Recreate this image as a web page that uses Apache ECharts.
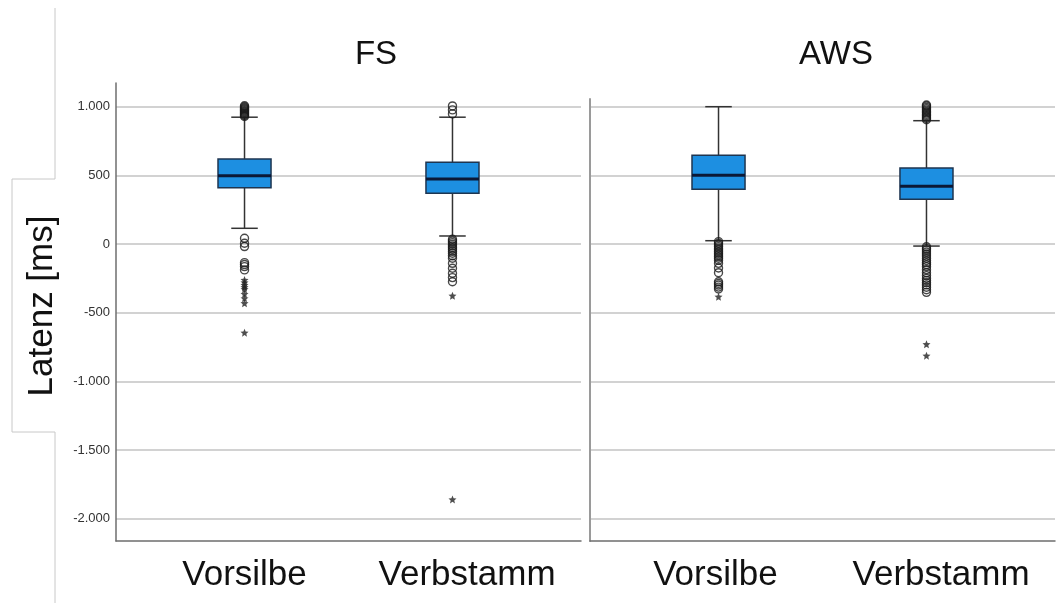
<!DOCTYPE html>
<html>
<head>
<meta charset="utf-8">
<script src="https://cdn.jsdelivr.net/npm/echarts@6/dist/echarts.min.js"></script>
<style>
html,body{margin:0;padding:0;background:#fff;}
#chart{width:1056px;height:603px;}
</style>
</head>
<body>
<div id="chart"></div>
<script>
// ---- data ----
const categories = ['Vorsilbe', 'Verbstamm'];
const panels = ['FS', 'AWS'];
const yTicks = [-2000, -1500, -1000, -500, 0, 500, 1000];
// [lower whisker, Q1, median, Q3, upper whisker]
const fsBoxes = [
  [114, 410, 497, 619, 923],
  [58, 369, 473, 595, 923]
];
const awsBoxes = [
  [24, 398, 500, 646, 1000],
  [-15, 326, 420, 553, 898]
];
// outliers (circles) and extreme values (stars)
const fsVorsilbeCircles = [928, 935, 942, 950, 957, 964, 971, 978, 985, 992, 999, 1006, 41, 5, -19, -136, -150, -165, -189];
const fsVorsilbeStars = [-262, -280, -299, -315, -330, -364, -396, -432, -646];
const fsVerbstammCircles = [947, 976, 1005, 34, 22, 10, -2, -15, -27, -39, -54, -68, -86, -104, -141, -177, -213, -245, -275];
const fsVerbstammStars = [-377, -1860];
const awsVorsilbeCircles = [17, 5, -7, -19, -31, -43, -56, -68, -80, -92, -104, -118, -141, -175, -209, -275, -287, -299, -314, -328];
const awsVorsilbeStars = [-384];
const awsVerbstammCircles = [905, 915, 925, 935, 945, 955, 965, 975, 985, 995, 1005, 1012, -20, -32, -44, -58, -73, -88, -104, -120, -136, -150, -165, -187, -209, -230, -250, -266, -282, -298, -315, -333, -352];
const awsVerbstammStars = [-730, -813];

// ---- helpers ----
const FONT = 'Liberation Sans, Arial, sans-serif';
function boxData(boxes) {
  return boxes.map((b, i) => [i].concat(b));
}
function pts(idx, vals) { return vals.map(v => [idx, v]); }
function fmtDe(v) {
  const s = String(Math.abs(v));
  const t = s.length > 3 ? s.slice(0, s.length - 3) + '.' + s.slice(-3) : s;
  return (v < 0 ? '-' : '') + t;
}
function renderBox(params, api) {
  const x = api.value(0);
  const lo = api.coord([x, api.value(1)]);
  const q1 = api.coord([x, api.value(2)]);
  const med = api.coord([x, api.value(3)]);
  const q3 = api.coord([x, api.value(4)]);
  const hi = api.coord([x, api.value(5)]);
  const w = api.size([0.255, 0])[0];
  const cw = w * 0.5;
  const cx = lo[0];
  const ws = { stroke: '#333', lineWidth: 1.5 };
  return {
    type: 'group',
    children: [
      { type: 'line', shape: { x1: cx, y1: hi[1], x2: cx, y2: q3[1] }, style: ws },
      { type: 'line', shape: { x1: cx, y1: q1[1], x2: cx, y2: lo[1] }, style: ws },
      { type: 'line', shape: { x1: cx - cw / 2, y1: hi[1], x2: cx + cw / 2, y2: hi[1] }, style: ws },
      { type: 'line', shape: { x1: cx - cw / 2, y1: lo[1], x2: cx + cw / 2, y2: lo[1] }, style: ws },
      { type: 'rect', shape: { x: cx - w / 2, y: q3[1], width: w, height: q1[1] - q3[1] },
        style: { fill: '#1d8fe1', stroke: '#1e3550', lineWidth: 1.5 } },
      { type: 'line', shape: { x1: cx - w / 2, y1: med[1], x2: cx + w / 2, y2: med[1] },
        style: { stroke: '#0b1836', lineWidth: 3 } }
    ]
  };
}
const STAR = 'path://M0,-10L2.645,-3.64L9.51,-3.09L4.28,1.39L5.88,8.09L0,4.5L-5.88,8.09L-4.28,1.39L-9.51,-3.09L-2.645,-3.64Z';

function circleSeries(gi, data) {
  return {
    type: 'scatter', xAxisIndex: gi, yAxisIndex: gi, data: data,
    symbol: 'circle', symbolSize: 8, z: 3,
    itemStyle: { color: 'rgba(255,255,255,0)', borderColor: '#1a1a1a', borderWidth: 1.4 }
  };
}
function starSeries(gi, data) {
  return {
    type: 'scatter', xAxisIndex: gi, yAxisIndex: gi, data: data,
    symbol: STAR, symbolSize: 8, z: 3,
    itemStyle: { color: '#222' }
  };
}

const chart = echarts.init(document.getElementById('chart'), null, { renderer: 'canvas' });

const yMinVal = -2163;
function yAxisCfg(gi, maxVal, showLabels) {
  return {
    type: 'value', gridIndex: gi, min: yMinVal, max: maxVal,
    minInterval: 500, maxInterval: 500,
    axisLine: { show: true, onZero: false, lineStyle: { color: showLabels ? '#6e6e6e' : '#9a9a9a', width: showLabels ? 1.5 : 2 } },
    axisTick: { show: false },
    axisLabel: {
      show: showLabels, margin: 6, fontSize: 13, color: '#333', fontFamily: FONT,
      showMinLabel: false, showMaxLabel: false,
      formatter: v => (yTicks.indexOf(v) >= 0 ? fmtDe(v) : '')
    },
    splitLine: { show: true, showMinLine: false, showMaxLine: false, lineStyle: { color: '#d2d2d2', width: 2 } }
  };
}
function xAxisCfg(gi, labelPos) {
  return {
    type: 'value', gridIndex: gi, min: -0.618, max: 1.618,
    axisLine: { show: true, onZero: false, lineStyle: { color: '#6e6e6e', width: 1.5 } },
    axisTick: { show: false },
    splitLine: { show: false },
    axisLabel: {
      show: true, customValues: labelPos, margin: 17, fontSize: 35, color: '#111', fontFamily: FONT,
      formatter: v => categories[v < 0.5 ? 0 : 1]
    }
  };
}

const option = {
  animation: false,
  backgroundColor: '#ffffff',
  grid: [
    { left: 116, right: 475, top: 83, bottom: 62 },
    { left: 590, right: 1, top: 99, bottom: 62 }
  ],
  xAxis: [xAxisCfg(0, [0, 1.07]), xAxisCfg(1, [-0.015, 1.07])],
  yAxis: [yAxisCfg(0, 1172, true), yAxisCfg(1, 1056, false)],
  graphic: [
    { type: 'polyline', shape: { points: [[55, 8], [55, 179], [12, 179], [12, 432], [55, 432], [55, 603]] },
      style: { stroke: '#c8c8c8', lineWidth: 1, fill: null } },
    { type: 'text', x: 42, y: 306, rotation: Math.PI / 2,
      style: { text: 'Latenz [ms]', fontSize: 35, fontFamily: FONT, fill: '#111', align: 'center', verticalAlign: 'middle' } },
    { type: 'text', x: 376, y: 55,
      style: { text: panels[0], fontSize: 33, fontFamily: FONT, fill: '#111', align: 'center', verticalAlign: 'middle' } },
    { type: 'text', x: 836, y: 55,
      style: { text: panels[1], fontSize: 33, fontFamily: FONT, fill: '#111', align: 'center', verticalAlign: 'middle' } }
  ],
  series: [
    { type: 'custom', xAxisIndex: 0, yAxisIndex: 0, renderItem: renderBox, data: boxData(fsBoxes),
      encode: { x: 0, y: [1, 2, 3, 4, 5] }, z: 2 },
    { type: 'custom', xAxisIndex: 1, yAxisIndex: 1, renderItem: renderBox, data: boxData(awsBoxes),
      encode: { x: 0, y: [1, 2, 3, 4, 5] }, z: 2 },
    circleSeries(0, pts(0, fsVorsilbeCircles).concat(pts(1, fsVerbstammCircles))),
    starSeries(0, pts(0, fsVorsilbeStars).concat(pts(1, fsVerbstammStars))),
    circleSeries(1, pts(0, awsVorsilbeCircles).concat(pts(1, awsVerbstammCircles))),
    starSeries(1, pts(0, awsVorsilbeStars).concat(pts(1, awsVerbstammStars)))
  ]
};
chart.setOption(option);
</script>
</body>
</html>
